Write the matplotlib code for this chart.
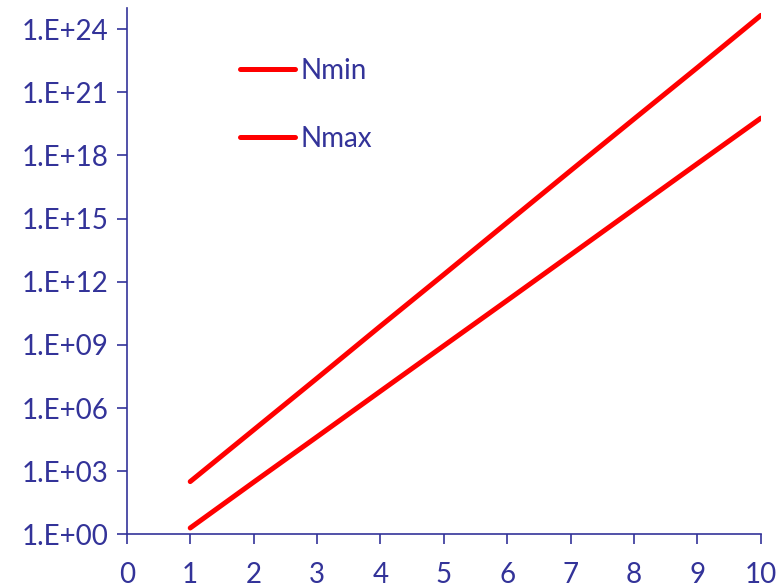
import numpy as np
import matplotlib.pyplot as plt
from matplotlib.ticker import FixedLocator, FuncFormatter, NullLocator

plt.rcParams['font.family'] = ['Lato', 'DejaVu Sans']

# Datos por nivel
niveles = [1, 2, 3, 4, 5, 6, 7, 8, 9, 10]
n_min = [2.0e0, 3.0e2, 4.3e4, 6.3e6, 9.1e8, 1.3e11, 1.9e13, 2.8e15, 4.1e17, 5.9e19]
n_max = [3.2e2, 9.1e4, 2.6e7, 7.8e9, 2.2e12, 6.5e14, 1.9e17, 5.4e19, 1.5e22, 4.5e24]

azul = '#333399'
rojo = '#ff0000'

fig = plt.figure(figsize=(7.78, 5.88), dpi=100)
ax = fig.add_axes([0.163, 0.0913, 0.815, 0.895])

ax.plot(niveles, n_min, color=rojo, lw=3.6, solid_capstyle='round', label='Nmin')
ax.plot(niveles, n_max, color=rojo, lw=3.6, solid_capstyle='round', label='Nmax')

ax.set_yscale('log')
ax.set_xlim(0, 10)
ax.set_ylim(1, 1e25)

ax.set_xticks(range(0, 11))
ax.yaxis.set_major_locator(FixedLocator([10.0 ** e for e in range(0, 25, 3)]))
ax.yaxis.set_minor_locator(NullLocator())
ax.yaxis.set_major_formatter(FuncFormatter(lambda v, p: '1.E+%02d' % round(np.log10(v))))

for lado in ['top', 'right']:
    ax.spines[lado].set_visible(False)
for lado in ['left', 'bottom']:
    ax.spines[lado].set_color(azul)
    ax.spines[lado].set_linewidth(1.2)
ax.tick_params(colors=azul, labelsize=20, length=7, width=1.2, direction='out')
ax.tick_params(axis='x', pad=13)
ax.tick_params(axis='y', pad=6)

leg = ax.legend(loc='upper left', bbox_to_anchor=(0.178, 0.905), frameon=False,
                fontsize=20, handlelength=2.0, handletextpad=0.2,
                labelspacing=1.5, borderpad=0, borderaxespad=0)
for t in leg.get_texts():
    t.set_color(azul)

fig.savefig('out.png', dpi=100)
